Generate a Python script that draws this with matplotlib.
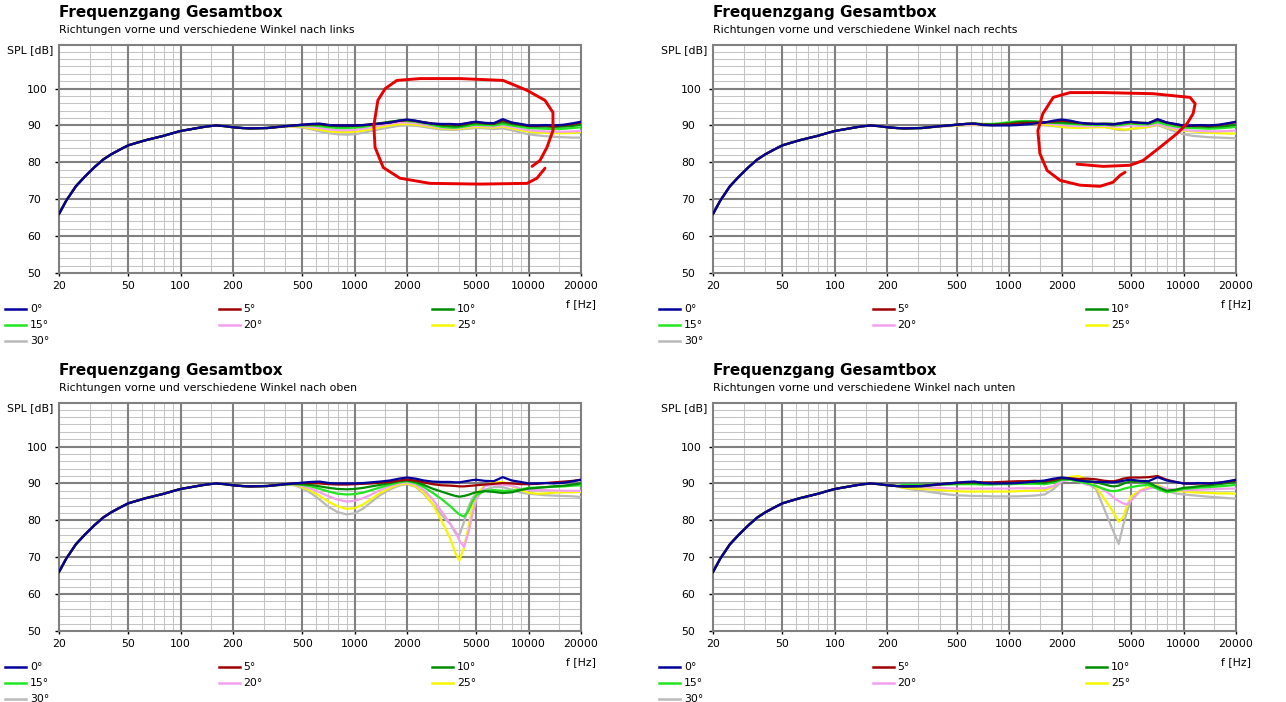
import matplotlib
matplotlib.use("Agg")
import matplotlib.pyplot as plt
from matplotlib.lines import Line2D
from matplotlib.ticker import NullFormatter

W, H = 1286, 702

# frequency grid, shared low range (all angles identical there)
freq_low = [20, 22, 25, 28, 32, 36, 40, 45, 50, 56, 63, 71, 80, 90, 100, 112, 125, 140, 160, 180, 200, 225]
spl_low = [66.0, 69.6, 73.5, 76.0, 78.7, 80.8, 82.2, 83.5, 84.6, 85.3, 86.0, 86.6, 87.2, 87.9, 88.5, 88.9,
           89.3, 89.7, 90.0, 89.8, 89.5, 89.3]

freq_high = [250, 315, 400, 450, 500, 560, 630, 710, 800, 900, 1000, 1120, 1250, 1400, 1600, 1800, 2000,
             2240, 2500, 2800, 3150, 3550, 3800, 4000, 4250, 4500, 4750, 5000, 5600, 6300, 7100, 8000,
             9000, 10000, 11200, 12500, 14000, 16000, 18000, 20000]

# 0 deg (same measurement in all four charts)
spl_00 = [89.2, 89.3, 89.8, 90.0, 90.2, 90.4, 90.5, 90.1, 90.0, 90.0, 90.0, 90.1, 90.3, 90.5, 90.8, 91.3, 91.6,
          91.3, 90.8, 90.5, 90.4, 90.4, 90.3, 90.3, 90.5, 90.7, 90.9, 91.0, 90.7, 90.6, 91.7, 90.8,
          90.4, 90.0, 90.0, 90.1, 90.0, 90.2, 90.6, 91.0]

# nach links
links_05 = [89.2, 89.3, 89.8, 90.0, 90.2, 90.3, 90.4, 90.1, 90.0, 90.0, 90.0, 90.1, 90.3, 90.5, 90.8, 91.2, 91.5,
            91.2, 90.8, 90.5, 90.3, 90.3, 90.2, 90.2, 90.4, 90.6, 90.8, 90.9, 90.6, 90.5, 91.4, 90.7,
            90.3, 89.9, 89.9, 90.0, 89.9, 90.1, 90.4, 90.8]
links_10 = [89.2, 89.3, 89.8, 90.0, 90.1, 90.2, 90.2, 89.9, 89.8, 89.8, 89.9, 90.0, 90.3, 90.6, 91.0, 91.3, 91.4,
            91.2, 90.9, 90.5, 90.0, 89.8, 89.7, 89.8, 90.0, 90.3, 90.5, 90.6, 90.5, 90.4, 90.9, 90.4,
            90.1, 89.8, 89.7, 89.7, 89.6, 89.7, 89.9, 90.2]
links_15 = [89.2, 89.3, 89.8, 89.9, 90.0, 90.0, 89.8, 89.5, 89.3, 89.3, 89.4, 89.6, 90.0, 90.5, 91.0, 91.3, 91.2,
            91.0, 90.6, 90.1, 89.6, 89.4, 89.4, 89.5, 89.7, 89.9, 90.1, 90.2, 90.1, 90.0, 90.4, 90.0,
            89.6, 89.3, 89.2, 89.1, 89.0, 89.1, 89.3, 89.5]
links_20 = [89.2, 89.3, 89.7, 89.8, 89.8, 89.6, 89.3, 88.9, 88.7, 88.7, 88.8, 89.1, 89.5, 90.0, 90.5, 90.8, 90.8,
            90.6, 90.2, 89.8, 89.4, 89.2, 89.2, 89.3, 89.5, 89.7, 89.8, 89.9, 89.8, 89.7, 90.0, 89.6,
            89.1, 88.7, 88.5, 88.4, 88.3, 88.3, 88.4, 88.5]
links_25 = [89.2, 89.3, 89.7, 89.7, 89.6, 89.2, 88.8, 88.4, 88.2, 88.2, 88.3, 88.6, 89.0, 89.5, 90.0, 90.3, 90.4,
            90.2, 89.9, 89.5, 89.2, 89.0, 89.0, 89.1, 89.2, 89.4, 89.5, 89.6, 89.5, 89.4, 89.7, 89.2,
            88.7, 88.3, 88.1, 88.0, 87.9, 87.9, 88.0, 88.2]
links_30 = [89.2, 89.3, 89.7, 89.6, 89.4, 89.0, 88.4, 87.9, 87.6, 87.5, 87.6, 88.0, 88.5, 89.0, 89.5, 89.9, 90.0,
            89.9, 89.6, 89.2, 88.9, 88.8, 88.8, 88.9, 89.0, 89.1, 89.2, 89.3, 89.2, 89.0, 89.2, 88.7,
            88.1, 87.6, 87.3, 87.1, 86.9, 86.8, 86.7, 86.7]

# nach rechts
rechts_05 = [89.2, 89.3, 89.8, 90.0, 90.2, 90.4, 90.5, 90.2, 90.1, 90.2, 90.3, 90.5, 90.6, 90.7, 90.8, 91.1, 91.3,
             91.1, 90.7, 90.5, 90.4, 90.4, 90.3, 90.3, 90.5, 90.7, 90.8, 90.9, 90.7, 90.6, 91.6, 90.8,
             90.3, 89.9, 89.9, 90.0, 89.9, 90.1, 90.5, 90.9]
rechts_10 = [89.2, 89.3, 89.8, 90.0, 90.2, 90.4, 90.5, 90.3, 90.3, 90.4, 90.6, 90.9, 91.0, 91.0, 90.9, 90.8, 90.8,
             90.7, 90.6, 90.5, 90.4, 90.5, 90.5, 90.4, 90.5, 90.6, 90.8, 90.9, 90.7, 90.7, 91.4, 90.7,
             90.2, 89.8, 89.8, 89.7, 89.6, 89.7, 89.9, 90.2]
rechts_15 = [89.2, 89.3, 89.8, 90.0, 90.2, 90.4, 90.5, 90.4, 90.4, 90.6, 90.9, 91.1, 91.2, 91.1, 90.9, 90.7, 90.6,
             90.4, 90.3, 90.2, 90.1, 90.2, 90.1, 90.0, 90.1, 90.2, 90.4, 90.5, 90.3, 90.3, 90.9, 90.2,
             89.7, 89.4, 89.3, 89.2, 89.1, 89.2, 89.4, 89.6]
rechts_20 = [89.2, 89.3, 89.7, 89.9, 90.1, 90.2, 90.3, 90.2, 90.2, 90.4, 90.6, 90.8, 90.9, 90.8, 90.6, 90.3, 90.1,
             89.9, 89.8, 89.8, 89.8, 89.9, 89.8, 89.7, 89.7, 89.8, 89.9, 90.0, 89.9, 89.9, 90.4, 89.7,
             89.2, 88.8, 88.6, 88.5, 88.4, 88.4, 88.5, 88.6]
rechts_25 = [89.2, 89.3, 89.7, 89.9, 90.0, 90.1, 90.2, 90.1, 90.1, 90.2, 90.4, 90.6, 90.6, 90.5, 90.2, 89.9, 89.6,
             89.4, 89.3, 89.4, 89.5, 89.5, 89.3, 89.1, 89.0, 88.9, 88.9, 89.1, 89.3, 89.6, 90.3, 89.5,
             88.9, 88.6, 88.4, 88.2, 88.0, 87.9, 87.8, 87.8]
rechts_30 = [89.2, 89.3, 89.7, 89.8, 89.9, 90.0, 90.1, 90.0, 90.0, 90.1, 90.3, 90.4, 90.4, 90.3, 90.0, 89.8, 89.6,
             89.5, 89.6, 89.7, 89.7, 89.6, 89.3, 89.0, 88.8, 88.7, 88.8, 89.0, 89.3, 89.6, 90.1, 89.2,
             88.3, 87.6, 87.2, 87.0, 86.8, 86.7, 86.6, 86.5]

# nach oben
oben_05 = [89.2, 89.3, 89.8, 90.0, 90.1, 90.1, 90.0, 89.8, 89.7, 89.7, 89.8, 89.9, 90.0, 90.2, 90.4, 90.8, 91.0,
           90.8, 90.3, 89.8, 89.5, 89.4, 89.3, 89.2, 89.2, 89.3, 89.4, 89.5, 89.7, 89.9, 90.1, 90.0,
           89.8, 89.8, 89.9, 90.1, 90.3, 90.5, 90.7, 91.0]
oben_10 = [89.2, 89.3, 89.8, 89.9, 89.8, 89.6, 89.2, 88.8, 88.5, 88.4, 88.5, 88.8, 89.2, 89.6, 90.1, 90.6, 90.8,
           90.4, 89.6, 88.6, 87.8, 87.0, 86.6, 86.4, 86.6, 86.9, 87.3, 87.6, 87.9, 87.7, 87.4, 87.6,
           88.2, 88.6, 88.8, 89.0, 89.2, 89.4, 89.7, 90.0]
oben_15 = [89.2, 89.3, 89.7, 89.8, 89.6, 89.2, 88.5, 87.8, 87.2, 87.0, 87.1, 87.5, 88.2, 88.9, 89.7, 90.3, 90.6,
           90.1, 89.0, 87.5, 85.8, 83.8, 82.5, 81.6, 81.0, 82.5, 85.0, 86.8, 88.0, 88.2, 88.0, 88.0,
           88.4, 88.8, 88.9, 89.0, 89.1, 89.2, 89.4, 89.5]
oben_20 = [89.2, 89.3, 89.7, 89.7, 89.3, 88.6, 87.6, 86.5, 85.6, 85.1, 85.3, 86.0, 87.0, 88.2, 89.3, 90.0, 90.3,
           89.7, 88.2, 85.8, 82.5, 79.0, 77.0, 74.5, 72.8, 76.5, 81.5, 85.5, 89.3, 89.7, 89.6, 89.4,
           88.6, 88.2, 88.2, 88.2, 88.1, 88.0, 88.0, 88.0]
oben_25 = [89.2, 89.3, 89.7, 89.6, 89.0, 88.0, 86.6, 85.0, 83.8, 83.1, 83.3, 84.3, 85.8, 87.4, 88.8, 89.7, 90.0,
           89.3, 87.5, 84.5, 80.0, 75.0, 71.0, 69.2, 72.5, 78.0, 83.5, 87.0, 89.5, 90.3, 90.4, 89.3,
           88.2, 87.5, 87.2, 87.3, 87.5, 87.6, 87.6, 87.7]
oben_30 = [89.2, 89.3, 89.7, 89.5, 88.7, 87.4, 85.6, 83.6, 82.2, 81.6, 81.9, 83.2, 85.0, 86.8, 88.4, 89.4, 89.8,
           89.1, 87.2, 84.5, 81.5, 79.0, 76.5, 76.0, 79.5, 83.5, 86.0, 87.3, 88.3, 89.0, 89.0, 88.3,
           87.5, 87.2, 87.0, 86.8, 86.7, 86.6, 86.5, 86.3]

# nach unten
unten_05 = [89.2, 89.3, 89.8, 90.0, 90.2, 90.3, 90.4, 90.3, 90.3, 90.4, 90.5, 90.6, 90.6, 90.7, 90.6, 91.0, 91.5,
            91.4, 91.2, 91.3, 91.1, 90.7, 90.6, 90.6, 90.9, 91.3, 91.5, 91.6, 91.6, 91.7, 92.0, 91.0,
            90.4, 90.0, 89.9, 90.0, 90.0, 90.2, 90.5, 90.9]
unten_10 = [89.1, 89.2, 89.7, 89.9, 90.0, 90.1, 90.1, 90.0, 90.0, 90.1, 90.2, 90.3, 90.3, 90.3, 90.2, 90.6, 91.2,
            91.2, 90.9, 90.7, 90.3, 89.7, 89.3, 89.2, 89.4, 89.9, 90.3, 90.5, 90.5, 90.2, 89.0, 88.0,
            88.3, 88.8, 89.0, 89.3, 89.5, 89.8, 90.1, 90.4]
unten_15 = [89.6, 89.6, 89.7, 89.7, 89.8, 89.8, 89.8, 89.7, 89.7, 89.8, 89.8, 89.9, 89.9, 89.9, 89.8, 90.2, 91.0,
            91.0, 90.5, 90.0, 89.3, 88.4, 88.0, 87.9, 88.1, 88.5, 88.8, 89.0, 89.4, 89.6, 88.5, 87.6,
            88.0, 88.5, 88.7, 88.9, 89.0, 89.2, 89.4, 89.6]
unten_20 = [89.1, 89.0, 88.8, 88.7, 88.6, 88.6, 88.6, 88.6, 88.6, 88.6, 88.6, 88.7, 88.7, 88.7, 88.7, 89.3, 90.6,
            91.0, 90.5, 89.6, 89.5, 88.0, 87.0, 86.0, 85.2, 84.6, 84.3, 85.3, 87.8, 88.6, 89.2, 88.6,
            88.3, 88.1, 88.2, 88.3, 88.4, 88.5, 88.6, 88.6]
unten_25 = [88.8, 88.5, 88.2, 88.0, 87.9, 87.8, 87.8, 87.8, 87.8, 87.8, 87.8, 87.9, 88.0, 88.0, 88.2, 89.2, 90.8,
            91.8, 92.0, 91.0, 89.0, 85.5, 83.5, 81.8, 79.6, 80.8, 84.0, 86.5, 88.0, 89.0, 89.5, 88.5,
            88.0, 87.8, 87.6, 87.5, 87.4, 87.3, 87.3, 87.2]
unten_30 = [88.7, 88.0, 87.3, 87.0, 86.8, 86.7, 86.6, 86.6, 86.5, 86.5, 86.5, 86.5, 86.6, 86.7, 87.0, 88.5, 90.5,
            91.5, 91.2, 90.0, 88.5, 82.5, 79.0, 76.5, 73.6, 78.5, 82.5, 85.5, 88.0, 88.8, 89.2, 88.0,
            87.3, 87.0, 86.8, 86.6, 86.4, 86.2, 86.0, 85.9]

# hand-drawn red marks on the two upper charts (freq, dB)
links_ring_f = [10460, 11620, 12760, 13800, 13800, 12420, 9800, 7130, 4040, 2380, 1750, 1500, 1360, 1290,
                1310, 1460, 1820, 2710, 5260, 9800, 11170, 12420]
links_ring_db = [78.9, 80.5, 84.1, 88.6, 93.5, 96.8, 99.5, 102.2, 102.7, 102.7, 102.2, 100.0, 96.8, 90.0,
                 84.1, 78.6, 75.7, 74.3, 74.1, 74.3, 75.7, 78.4]
rechts_ring_f = [2450, 3460, 4940, 5860, 7340, 9180, 10480, 11350, 11660, 10900, 6690, 3460, 2230, 1790, 1560,
                 1460, 1500, 1650, 1960, 2550, 3320, 3940, 4330, 4620]
rechts_ring_db = [79.5, 78.9, 79.2, 80.5, 84.1, 87.8, 90.5, 93.2, 95.9, 97.6, 98.6, 98.9, 98.9, 97.6, 93.2,
                  88.6, 82.4, 77.8, 75.1, 73.8, 73.5, 74.6, 76.5, 77.3]

angle_labels = ["0°", "5°", "10°", "15°", "20°", "25°", "30°"]
angle_colors = ["#00009c", "#a00000", "#008c00", "#22e622", "#f2a0ee", "#f6f600", "#b9b9b9"]

major_x = [20, 50, 100, 200, 500, 1000, 2000, 5000, 10000, 20000]
minor_x = [30, 40, 60, 70, 80, 90, 150, 300, 400, 600, 700, 800, 900, 1500, 3000, 4000, 6000, 7000,
           8000, 9000, 15000]
major_y = [50, 60, 70, 80, 90, 100]
minor_y = [v for v in range(52, 112, 2) if v % 10 != 0 or v > 100]

TITLE = "Frequenzgang Gesamtbox"
SUB = "Richtungen vorne und verschiedene Winkel nach "

panels = [
    (59, 273, 522, "links", [links_05, links_10, links_15, links_20, links_25, links_30], (links_ring_f, links_ring_db)),
    (713, 273, 523, "rechts", [rechts_05, rechts_10, rechts_15, rechts_20, rechts_25, rechts_30], (rechts_ring_f, rechts_ring_db)),
    (59, 631, 522, "oben", [oben_05, oben_10, oben_15, oben_20, oben_25, oben_30], None),
    (713, 631, 523, "unten", [unten_05, unten_10, unten_15, unten_20, unten_25, unten_30], None),
]

plt.rcParams['font.family'] = ['DejaVu Sans']
fs = 7.8

fig = plt.figure(figsize=(W / 100, H / 100), dpi=100)


def fx(px):
    return px / W


def fy(py):
    return 1 - py / H


for left, bottom, width, side, others, ring in panels:
    top = bottom - 228
    ax = fig.add_axes([fx(left), fy(bottom), width / W, 228 / H])
    ax.set_xscale('log')
    ax.set_xlim(20, 20000)
    ax.set_ylim(50, 111.8)
    ax.set_xticks(major_x, labels=[str(v) for v in major_x])
    ax.set_xticks([], minor=True)
    ax.xaxis.set_minor_formatter(NullFormatter())
    ax.set_yticks(major_y, labels=[str(v) for v in major_y])
    ax.set_yticks([], minor=True)

    # grid: light lines first, dark ones over them
    for v in minor_x:
        ax.axvline(v, color='#c4c4c4', lw=0.75, zorder=0.5)
    for v in minor_y:
        ax.axhline(v, color='#c4c4c4', lw=0.75, zorder=0.5)
    for v in major_x[1:-1]:
        ax.axvline(v, color='#808080', lw=1.5, zorder=1)
    for v in major_y[1:]:
        ax.axhline(v, color='#808080', lw=1.5, zorder=1)

    ax.tick_params(axis='x', which='major', length=2.5, width=1, color='black', labelsize=fs, pad=3.5)
    ax.tick_params(axis='y', which='major', length=2.9, width=1, color='black', labelsize=fs, pad=20.1)
    for lbl in ax.get_yticklabels():
        lbl.set_horizontalalignment('left')
    for sp in ax.spines.values():
        sp.set_color('#808080')
        sp.set_linewidth(1.5)

    curves = [spl_00] + others
    for i in range(6, -1, -1):
        ax.plot(freq_low + freq_high, spl_low + curves[i], color=angle_colors[i], lw=1.6,
                solid_joinstyle='round', zorder=3)

    if ring is not None:
        ax.plot(ring[0], ring[1], color='#e80000', lw=2.1, solid_capstyle='round',
                solid_joinstyle='round', zorder=5, clip_on=False)

    fig.text(fx(left), fy(top - 27.7), TITLE, fontsize=11, fontweight='bold', va='baseline')
    fig.text(fx(left), fy(top - 11.7), SUB + side, fontsize=fs, va='baseline')
    fig.text(fx(left - 6), fy(top + 5), "SPL [dB]", fontsize=fs, ha='right', va='center')
    fig.text(fx(left + width), fy(bottom + 31), "f [Hz]", fontsize=fs, ha='center', va='center')

    # legend, three per row
    for i, (lab, col) in enumerate(zip(angle_labels, angle_colors)):
        row, colno = divmod(i, 3)
        x0 = left - 54 + colno * 213.5
        y0 = bottom + 36 + row * 16
        fig.add_artist(Line2D([fx(x0), fx(x0 + 21)], [fy(y0), fy(y0)], color=col, lw=1.8,
                              transform=fig.transFigure))
        fig.text(fx(x0 + 25), fy(y0), lab, fontsize=fs, va='center')

fig.savefig("out.png", dpi=100)
